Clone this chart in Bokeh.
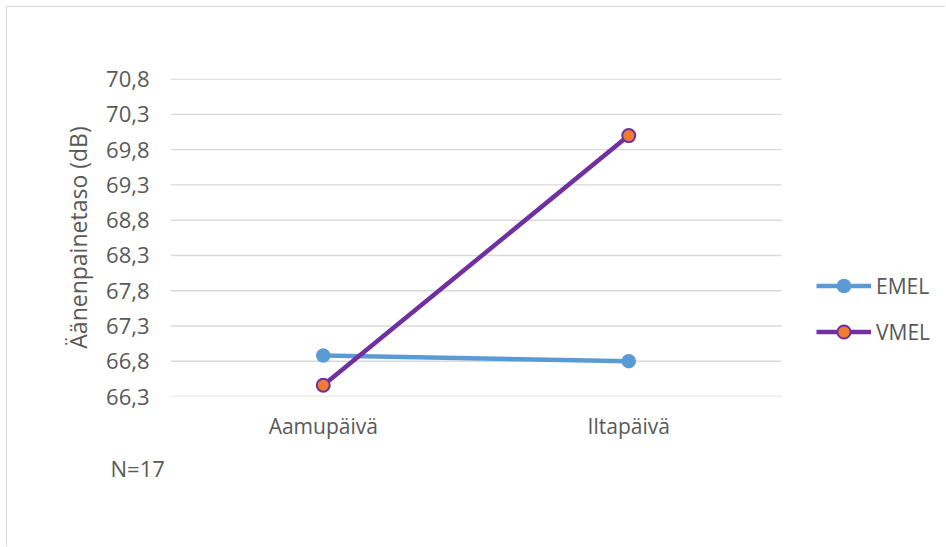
from bokeh.plotting import figure
from bokeh.models import (Range1d, FixedTicker, CustomJSTickFormatter, Legend, LegendItem, Title)
from bokeh.embed import file_html
from bokeh.resources import INLINE

categories = ["Aamupäivä", "Iltapäivä"]
emel = [66.88, 66.80]
vmel = [66.46, 70.00]
y_ticks = [66.3, 66.8, 67.3, 67.8, 68.3, 68.8, 69.3, 69.8, 70.3, 70.8]
y_title = "Äänenpainetaso (dB)"
note = "N=17"

FONT = "Open Sans"
TXT = "#595959"
FS = "21px"

# categories sit at the centres of equal bands; the frame extends to the right
# so that the legend can live inside it
xs = [i + 0.5 for i in range(len(categories))]
n = len(categories)
W, H = 939, 540
LEFT, TOP, BOTTOM = 163, 71, 151
BAND = 611  # pixel width of the category bands
x_end = n * (W - LEFT) / BAND

p = figure(x_range=Range1d(0, x_end), y_range=Range1d(y_ticks[0], y_ticks[-1] + 0.01),
           width=W, height=H, output_backend="svg", toolbar_location=None,
           min_border_left=LEFT, min_border_right=0, min_border_top=TOP, min_border_bottom=BOTTOM)
p.outline_line_color = None
p.styles = {"margin-left": "6px", "margin-top": "6px",
            "border-left": "1px solid #d9d9d9", "border-top": "1px solid #d9d9d9"}

p.xaxis.ticker = FixedTicker(ticks=xs)
p.xaxis.major_label_overrides = {x: c for x, c in zip(xs, categories)}
p.yaxis.ticker = FixedTicker(ticks=y_ticks)
p.yaxis.formatter = CustomJSTickFormatter(code="return tick.toFixed(1).replace('.', ',');")
for ax in (p.xaxis[0], p.yaxis[0]):
    ax.axis_line_color = None
    ax.major_tick_line_color = None
    ax.minor_tick_line_color = None
    ax.major_label_text_font = FONT
    ax.major_label_text_font_size = FS
    ax.major_label_text_color = TXT
p.yaxis.major_label_text_font_size = "22px"
p.yaxis.major_label_standoff = 15
p.xaxis.major_label_standoff = 9
p.yaxis.axis_label = y_title
p.yaxis.axis_label_text_font = FONT
p.yaxis.axis_label_text_font_size = "23px"
p.yaxis.axis_label_text_font_style = "normal"
p.yaxis.axis_label_text_color = TXT
p.yaxis.axis_label_standoff = 9

p.xgrid.grid_line_color = None
p.ygrid.grid_line_color = None
p.segment(x0=0, x1=n, y0=y_ticks, y1=y_ticks, line_color="#d9d9d9", line_width=1.3)

l1 = p.line(xs, emel, line_color="#5B9BD5", line_width=4.5)
c1 = p.scatter(xs, emel, size=13, fill_color="#5B9BD5", line_color="#5B9BD5", line_width=1.5)
l2 = p.line(xs, vmel, line_color="#7030A0", line_width=4.5)
c2 = p.scatter(xs, vmel, size=13, fill_color="#ED7D31", line_color="#7030A0", line_width=2)

legend = Legend(items=[LegendItem(label="EMEL", renderers=[l1, c1]),
                       LegendItem(label="VMEL", renderers=[l2, c2])],
                location=(646, 48), padding=0, margin=0, spacing=13,
                glyph_width=55, glyph_height=33, label_height=33, label_standoff=5,
                border_line_color=None, background_fill_alpha=0,
                label_text_font=FONT, label_text_font_size=FS, label_text_color=TXT)
p.add_layout(legend, "center")

p.add_layout(Title(text=note, align="left", offset=-60, standoff=16,
                   text_font=FONT, text_font_size="22px", text_font_style="normal",
                   text_color=TXT), "below")

open("out.html", "w").write(file_html(p, INLINE))
